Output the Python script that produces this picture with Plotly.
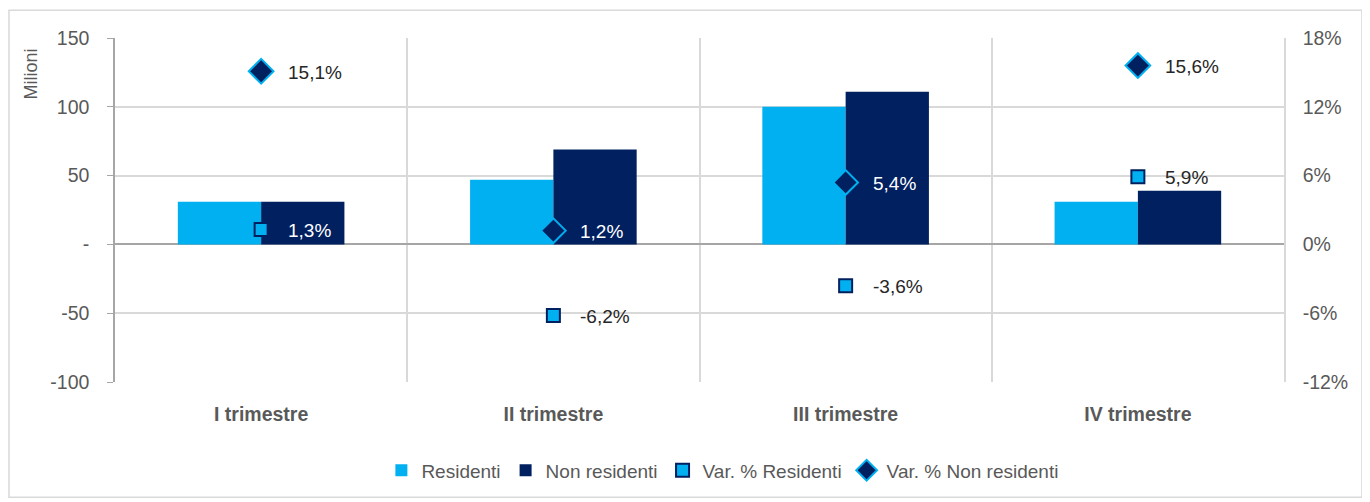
import plotly.graph_objects as go

# data
categories = ["I trimestre", "II trimestre", "III trimestre", "IV trimestre"]
residenti = [31, 47, 100, 31]
non_residenti = [31, 69, 111, 39]
var_residenti = [1.3, -6.2, -3.6, 5.9]
var_non_residenti = [15.1, 1.2, 5.4, 15.6]

left_ticks = [-100, -50, 0, 50, 100, 150]
left_text = ["-100", "-50", "-", "50", "100", "150"]
right_ticks = [-12, -6, 0, 6, 12, 18]

light = "#00B0F0"
dark = "#002060"
grid = "#D9D9D9"
txt = "#595959"
font_family = "Liberation Sans, Arial, sans-serif"


def fmt(v):
    return ("%.1f%%" % v).replace(".", ",")


fig = go.Figure()

fig.add_trace(go.Bar(x=categories, y=residenti, name="Residenti",
                     marker=dict(color=light, line=dict(width=0))))
fig.add_trace(go.Bar(x=categories, y=non_residenti, name="Non residenti",
                     marker=dict(color=dark, line=dict(width=0))))
fig.add_trace(go.Scatter(x=categories, y=var_residenti, name="Var. % Residenti",
                         mode="markers", yaxis="y2",
                         marker=dict(symbol="square", size=13, color=light,
                                     line=dict(color=dark, width=2))))
fig.add_trace(go.Scatter(x=categories, y=var_non_residenti, name="Var. % Non residenti",
                         mode="markers", yaxis="y2",
                         marker=dict(symbol="diamond", size=19, color=dark,
                                     line=dict(color=light, width=2))))

# value labels, white where they sit on the dark bars
annotations = []
for i, c in enumerate(categories):
    for vals in (var_residenti, var_non_residenti):
        v = vals[i]
        y_left = v / 18 * 150
        inside = 0 <= y_left <= non_residenti[i]
        annotations.append(dict(
            x=c, y=v, xref="x", yref="y2", text=fmt(v), showarrow=False,
            xanchor="left", yanchor="middle", xshift=25, yshift=-1,
            font=dict(size=19, color="white" if inside else "#262626"),
        ))

annotations.append(dict(
    x=0, y=1, xref="paper", yref="paper", text="Milioni", textangle=-90,
    showarrow=False, xanchor="center", yanchor="top", xshift=-85, yshift=-9,
    font=dict(size=18, color=txt),
))

# the page body adds an 8px offset, so the figure is sized to end at the window edge
fig.update_layout(
    width=1362,
    height=494,
    margin=dict(l=107, r=86, t=30, b=118),
    paper_bgcolor="white",
    plot_bgcolor="white",
    font=dict(family=font_family, size=19, color=txt),
    barmode="group",
    bargap=0.43,
    bargroupgap=0,
    showlegend=True,
    legend=dict(orientation="h", x=0.52, xanchor="center", y=-0.257, yanchor="middle",
                font=dict(size=19, color=txt), traceorder="normal",
                itemwidth=30, tracegroupgap=0),
    annotations=annotations,
    xaxis=dict(
        type="category", tickson="boundaries", showgrid=True, gridcolor=grid,
        gridwidth=1.5, ticks="", showline=False, zeroline=False,
        tickfont=dict(size=19.5, color=txt, family=font_family, weight="bold"),
        ticklabelstandoff=18,
    ),
    yaxis=dict(
        range=[-100, 150], tickvals=left_ticks, ticktext=left_text,
        showgrid=True, gridcolor=grid, gridwidth=1.5,
        zeroline=True, zerolinecolor="#A6A6A6", zerolinewidth=2,
        showline=True, linecolor="#A6A6A6", linewidth=1.5,
        ticks="outside", ticklen=6, tickcolor="#A6A6A6",
        tickfont=dict(size=19.5, color=txt), ticklabelstandoff=14,
    ),
    yaxis2=dict(
        range=[-12, 18], tickvals=right_ticks,
        ticktext=["%d%%" % t for t in right_ticks],
        overlaying="y", side="right", showgrid=False, zeroline=False,
        showline=True, linecolor=grid, linewidth=1.5, ticks="",
        tickfont=dict(size=19.5, color=txt), ticklabelstandoff=13,
    ),
    shapes=[dict(type="rect", xref="paper", yref="paper",
                 x0=-0.0907, x1=1.0667, y0=-0.335, y1=1.081,
                 line=dict(color=grid, width=1.5), layer="below")],
)

fig.write_html("out.html")
